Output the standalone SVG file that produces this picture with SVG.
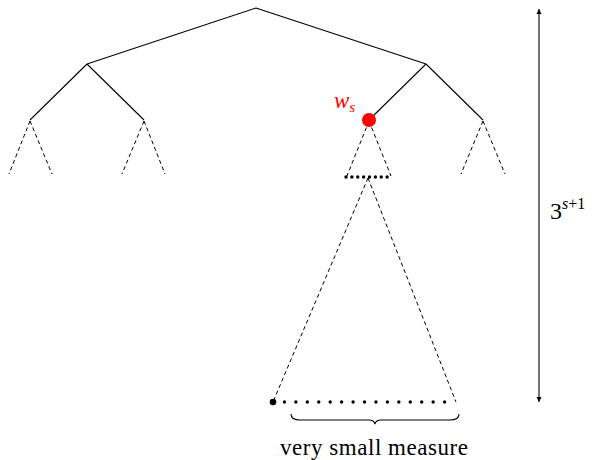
<svg xmlns="http://www.w3.org/2000/svg" width="594" height="460" viewBox="0 0 594 460">
<style>
.s{stroke:#000;stroke-width:1.1;fill:none}
.d{stroke:#000;stroke-width:1;fill:none;stroke-dasharray:4 3}
.dot{stroke:#000;stroke-width:3.4;fill:none;stroke-linecap:round}
.t{font-family:"Liberation Serif",serif;fill:#000}
</style>
<defs>
<marker id="ah" markerWidth="8" markerHeight="8" refX="6" refY="4" orient="auto-start-reverse" markerUnits="userSpaceOnUse">
<path d="M1,1.5 L6,4 L1,6.5 Z" fill="#000"/>
</marker>
</defs>
<g id="connectors">
<path class="s" d="M256,8 L87,64 M256,8 L426,64 M87,64 L30,120 M87,64 L144,120 M426,64 L369,120 M426,64 L483,120"/>
<path class="d" d="M30,121 L9,174 M30,121 L52,174 M144,121 L122,174 M144,121 L165,174 M369,121 L347,176 M369,121 L391,176 M483,121 L461,174 M483,121 L505,174"/>
<path class="d" d="M368,178 L273,402 M368,178 L456,402"/>
</g>
<g id="subtree-dots">
<path class="dot" d="M346,177 L393,177" stroke-dasharray="0 5.875"/>
</g>
<g id="ws">
<circle cx="369" cy="120" r="7" fill="#f00"/>
<text class="t" x="334" y="108" font-size="23" font-style="italic" fill="#f00" style="fill:#f00">w<tspan font-size="15" dy="4">s</tspan></text>
</g>
<g id="bottom">
<circle cx="273" cy="402" r="3.3" fill="#000"/>
<path class="dot" d="M273,402 L456,402" stroke-width="2.2" stroke-dasharray="0 11.44"/>
<path class="s" d="M291,414 Q291,420 300,420 L369,420 Q374,420 375,424 Q376,420 381,420 L450,420 Q459,420 459,414"/>
<text class="t" x="374" y="455" font-size="23" text-anchor="middle" textLength="188">very small measure</text>
</g>
<g id="height">
<line class="s" x1="539" y1="9" x2="539" y2="402" marker-start="url(#ah)" marker-end="url(#ah)"/>
<text class="t" x="550" y="219" font-size="24">3<tspan font-size="16" font-style="italic" dy="-10">s</tspan><tspan font-size="16">+1</tspan></text>
</g>
</svg>
